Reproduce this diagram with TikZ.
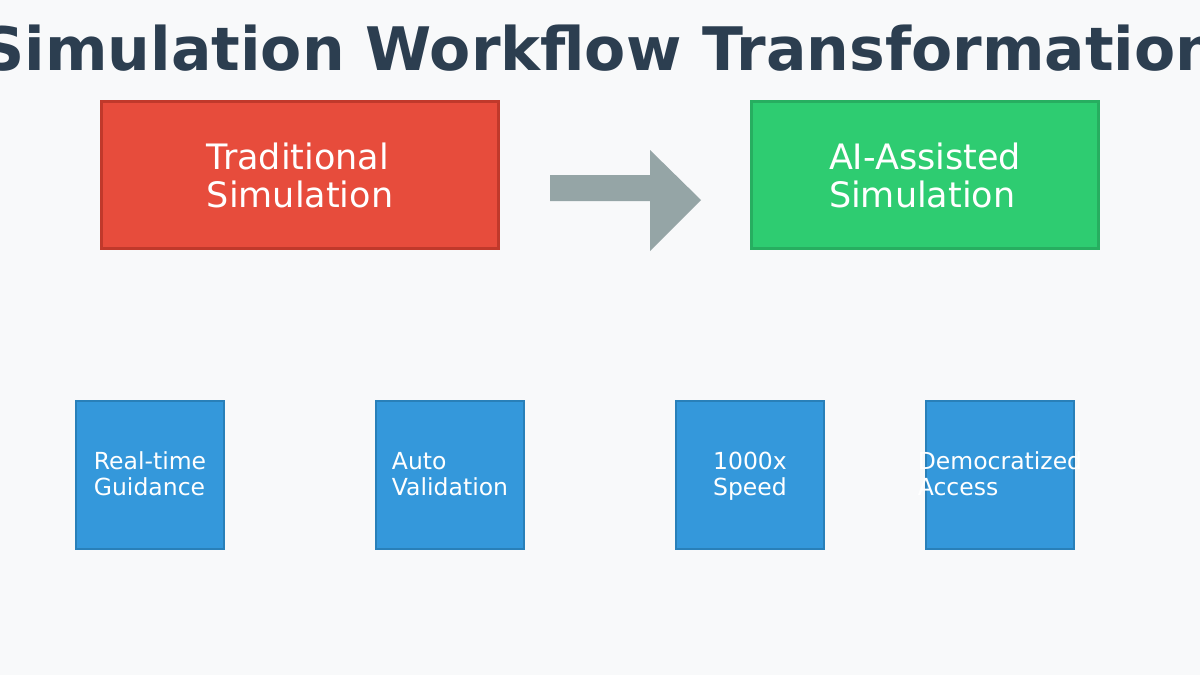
\documentclass[tikz,border=0pt]{standalone}
\usepackage{fontspec}
\setmainfont{DejaVu Sans}
\definecolor{bgc}{HTML}{F8F9FA}
\definecolor{titlec}{HTML}{2C3E50}
\definecolor{redf}{HTML}{E74C3C}
\definecolor{redd}{HTML}{C0392B}
\definecolor{greenf}{HTML}{2ECC71}
\definecolor{greend}{HTML}{27AE60}
\definecolor{bluef}{HTML}{3498DB}
\definecolor{blued}{HTML}{2980B9}
\definecolor{arrowc}{HTML}{95A5A6}
\begin{document}
\begin{tikzpicture}[x=1pt,y=-1pt,
  bigbox/.style={draw, line width=3pt, minimum width=397pt, minimum height=147pt, inner sep=0pt},
  bigtext/.style={text=white, align=left, anchor=base, font=\fontsize{35}{38}\selectfont, inner sep=0pt},
  featbox/.style={draw=blued, fill=bluef, line width=2pt, minimum width=148pt, minimum height=148pt, inner sep=0pt},
  feattext/.style={text=white, align=left, anchor=base, font=\fontsize{23.5}{26}\selectfont, inner sep=0pt}]
\fill[bgc] (0,0) rectangle (1200,675);
\useasboundingbox (0,0) rectangle (1200,675);
\node[anchor=base, text=titlec, font=\bfseries\fontsize{60}{64}\selectfont, inner sep=0pt] (title) at (600,70) {Simulation Workflow Transformation};
\node[bigbox, draw=redd, fill=redf] (trad) at (300,175) {};
\node[bigbox, draw=greend, fill=greenf, minimum width=347pt] (ai) at (925,175) {};
\node[bigtext] (tradt) at (300,207) {Traditional\\Simulation};
\node[bigtext] (ait) at (925,207) {AI-Assisted\\Simulation};
\coordinate (arrs) at (550,175);
\fill[arrowc] (arrs) -- ++(100,0) -- ++(0,-25) -- ++(51,50) -- ++(-51,51) -- ++(0,-50) -- ++(-100,0) -- cycle;
\node[featbox] (f1) at (150,475) {};
\node[featbox] (f2) at (450,475) {};
\node[featbox] (f3) at (750,475) {};
\node[featbox] (f4) at (1000,475) {};
\node[feattext] (f1t) at (150,495) {Real-time\\Guidance};
\node[feattext] (f2t) at (450,495) {Auto\\Validation};
\node[feattext] (f3t) at (750,495) {1000x\\Speed};
\node[feattext] (f4t) at (1000,495) {Democratized\\Access};
\end{tikzpicture}
\end{document}
